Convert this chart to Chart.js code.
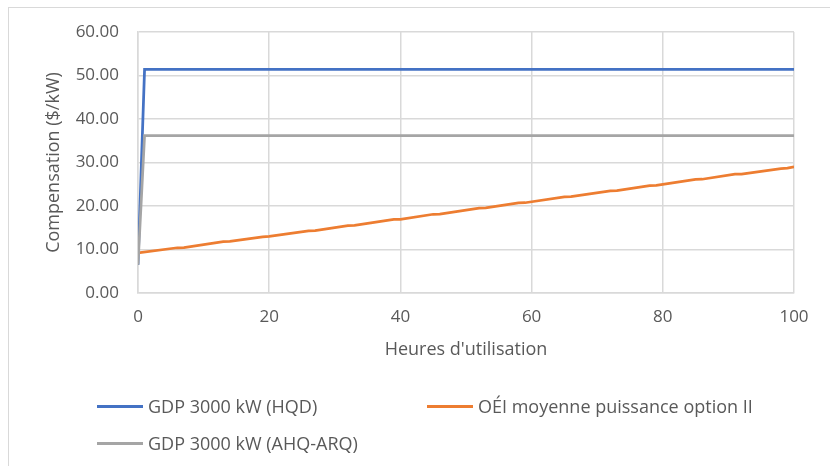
<!DOCTYPE html>
<html>
<head>
<meta charset="utf-8">
<script src="https://cdn.jsdelivr.net/npm/chart.js@4.4.0/dist/chart.umd.min.js"></script>
<style>
    body { margin: 0; background: #fff; font-family: 'Open Sans', sans-serif; }
    #wrap { position: relative; width: 830px; height: 466px; overflow: hidden; }
    #frame { position: absolute; left: 8px; top: 7px; width: 900px; height: 500px;
             border-left: 1.5px solid #d9d9d9; border-top: 1.5px solid #d9d9d9; }
    canvas { position: absolute; left: 0; top: 0; }
    .item { position: absolute; display: flex; align-items: center; height: 24px;
            font-size: 18px; color: #595959; white-space: nowrap; }
    .item span.swatch { display: inline-block; width: 46px; height: 3px; margin-right: 5px; }
</style>
</head>
<body>
<div id="wrap">
    <div id="frame"></div>
    <canvas id="chart" width="830" height="466"></canvas>
    <div id="legend"></div>
</div>
<script>
// Series data
const hqdHours = [0, 1, 100];
const hqdValues = [6.5, 51.4, 51.4];

const ahqHours = [0, 1, 100];
const ahqValues = [6.5, 36.2, 36.2];

const oeiHours = [0, 6, 7, 13, 14, 19, 20, 26, 27, 32, 33, 39, 40, 45, 46, 52, 53, 58, 59, 65, 66, 72, 73, 78, 79, 85, 86, 91, 92, 98, 99, 100];
const oeiValues = [9.2, 10.4, 10.45, 11.8, 11.85, 12.9, 13.0, 14.3, 14.35, 15.5, 15.55, 16.9, 16.95, 18.1, 18.15, 19.5, 19.55, 20.7, 20.75, 22.1, 22.15, 23.5, 23.55, 24.7, 24.75, 26.1, 26.15, 27.3, 27.35, 28.6, 28.7, 29.0];

const xTicks = [0, 20, 40, 60, 80, 100];
const yTicks = [0, 10, 20, 30, 40, 50, 60];

const seriesNames = ['GDP 3000 kW (HQD)', 'OÉI moyenne puissance option II', 'GDP 3000 kW (AHQ-ARQ)'];
const seriesColors = ['#4472C4', '#ED7D31', '#A5A5A5'];

const toPoints = (xs, ys) => xs.map((x, i) => ({x: x, y: ys[i]}));

const gridColor = '#d9d9d9';
const textColor = '#595959';

const ctx = document.getElementById('chart').getContext('2d');
new Chart(ctx, {
    type: 'line',
    data: {
        datasets: [
            { label: seriesNames[0], data: toPoints(hqdHours, hqdValues), borderColor: seriesColors[0], order: 2 },
            { label: seriesNames[1], data: toPoints(oeiHours, oeiValues), borderColor: seriesColors[1], order: 1 },
            { label: seriesNames[2], data: toPoints(ahqHours, ahqValues), borderColor: seriesColors[2], order: 0 }
        ].map(d => Object.assign(d, { borderWidth: 2.75, pointRadius: 0, tension: 0, fill: false }))
    },
    options: {
        responsive: false,
        animation: false,
        devicePixelRatio: 1,
        layout: { padding: { left: 0, top: 32, right: 36, bottom: 103 } },
        plugins: { legend: { display: false }, tooltip: { enabled: false } },
        scales: {
            x: {
                type: 'linear',
                min: 0, max: 100,
                afterBuildTicks: s => { s.ticks = xTicks.map(v => ({value: v})); },
                afterFit: s => { s.height = 70; },
                ticks: { color: textColor, font: { family: 'Open Sans', size: 17 }, padding: 14 },
                grid: { color: gridColor, lineWidth: 1.5, drawTicks: false },
                border: { color: gridColor, width: 1.5 },
                title: { display: true, text: "Heures d'utilisation", color: textColor,
                         font: { family: 'Open Sans', size: 18 }, padding: { top: 0, bottom: 2 } }
            },
            y: {
                min: 0, max: 60,
                afterBuildTicks: s => { s.ticks = yTicks.map(v => ({value: v})); },
                afterFit: s => { s.width = 138; },
                ticks: { color: textColor, font: { family: 'Open Sans', size: 17 }, padding: 19,
                         callback: v => v.toFixed(2) },
                grid: { color: gridColor, lineWidth: 1.5, drawTicks: false },
                border: { color: gridColor, width: 1.5 },
                title: { display: true, text: 'Compensation ($/kW)', color: textColor,
                         font: { family: 'Open Sans', size: 18 }, padding: { top: 43, bottom: 0 } }
            }
        }
    }
});

// Legend laid out like the Excel one: two columns
const legendSpots = [
    { left: 97, top: 394 },
    { left: 427, top: 394 },
    { left: 97, top: 431 }
];
const legend = document.getElementById('legend');
seriesNames.forEach((name, i) => {
    const item = document.createElement('div');
    item.className = 'item';
    item.style.left = legendSpots[i].left + 'px';
    item.style.top = legendSpots[i].top + 'px';
    item.innerHTML = `<span class="swatch" style="background:${seriesColors[i]}"></span>`;
    item.appendChild(document.createTextNode(name));
    legend.appendChild(item);
});
</script>
</body>
</html>
